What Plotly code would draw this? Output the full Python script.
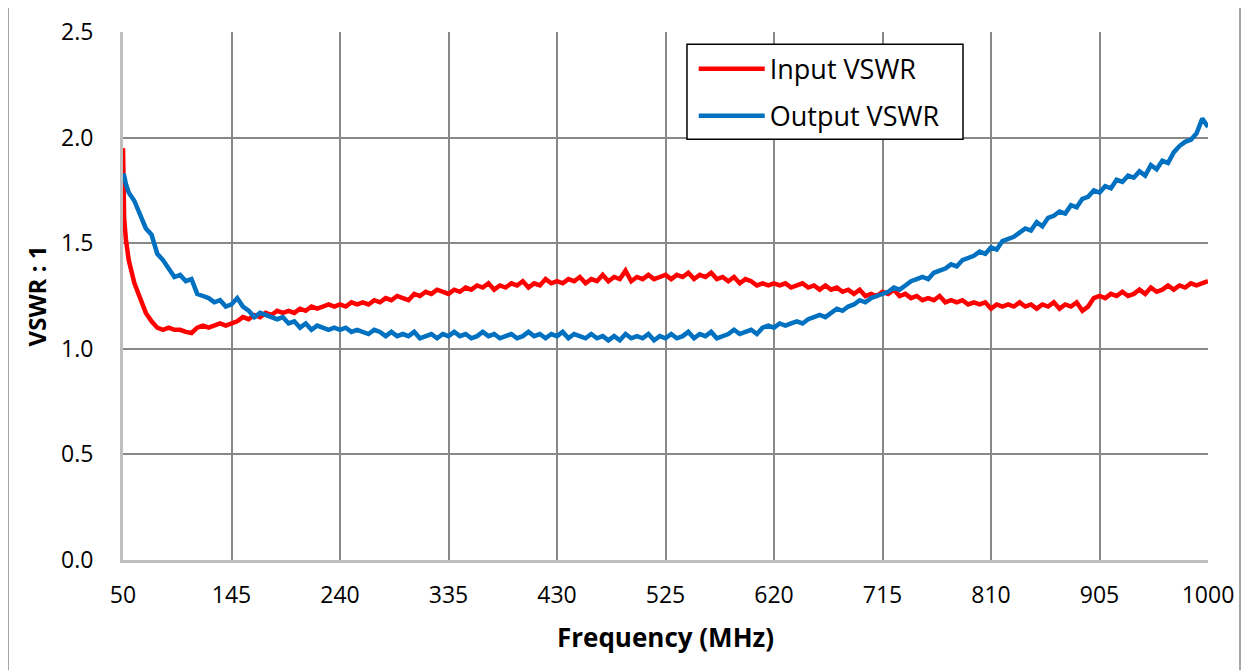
import plotly.graph_objects as go

freq = [50, 51, 52.5] + list(range(55, 1001, 5))

input_vswr = [
    1.95, 1.62, 1.52,
    1.42, 1.31, 1.24, 1.17, 1.13, 1.10, 1.09, 1.10, 1.09, 1.09,
    1.08, 1.075, 1.10, 1.11, 1.10, 1.11, 1.12, 1.11, 1.12, 1.13,
    1.15, 1.14, 1.16, 1.15, 1.17, 1.16, 1.18, 1.17, 1.18, 1.17,
    1.19, 1.18, 1.20, 1.19, 1.20, 1.21, 1.20, 1.21, 1.20, 1.22,
    1.21, 1.22, 1.21, 1.23, 1.22, 1.24, 1.23, 1.25, 1.24, 1.23,
    1.26, 1.25, 1.27, 1.26, 1.28, 1.27, 1.26, 1.28, 1.27, 1.29,
    1.28, 1.30, 1.29, 1.31, 1.28, 1.30, 1.29, 1.31, 1.30, 1.32,
    1.29, 1.31, 1.30, 1.33, 1.31, 1.32, 1.31, 1.33, 1.32, 1.34,
    1.31, 1.33, 1.32, 1.35, 1.32, 1.34, 1.33, 1.37, 1.32, 1.34,
    1.33, 1.35, 1.33, 1.34, 1.35, 1.33, 1.35, 1.34, 1.36, 1.33,
    1.35, 1.34, 1.36, 1.33, 1.34, 1.32, 1.34, 1.31, 1.33, 1.32,
    1.30, 1.31, 1.30, 1.31, 1.30, 1.31, 1.29, 1.30, 1.31, 1.29,
    1.30, 1.28, 1.30, 1.28, 1.29, 1.27, 1.28, 1.26, 1.28, 1.25,
    1.26, 1.25, 1.27, 1.26, 1.28, 1.25, 1.26, 1.24, 1.25, 1.23,
    1.24, 1.23, 1.25, 1.22, 1.23, 1.22, 1.23, 1.21, 1.22, 1.21,
    1.22, 1.19, 1.21, 1.20, 1.21, 1.20, 1.22, 1.20, 1.21, 1.19,
    1.21, 1.20, 1.22, 1.19, 1.21, 1.20, 1.22, 1.18, 1.20, 1.24,
    1.25, 1.24, 1.26, 1.25, 1.27, 1.25, 1.26, 1.28, 1.26, 1.29,
    1.27, 1.28, 1.30, 1.28, 1.30, 1.29, 1.31, 1.30, 1.31, 1.32,
]

output_vswr = [
    1.83, 1.82, 1.78,
    1.74, 1.70, 1.64, 1.57, 1.54, 1.45, 1.42, 1.38, 1.34, 1.35,
    1.32, 1.33, 1.26, 1.25, 1.24, 1.22, 1.23, 1.20, 1.21, 1.24,
    1.20, 1.18, 1.15, 1.17, 1.16, 1.15, 1.14, 1.15, 1.12, 1.13,
    1.10, 1.12, 1.09, 1.11, 1.10, 1.09, 1.10, 1.09, 1.10, 1.08,
    1.09, 1.08, 1.07, 1.09, 1.08, 1.06, 1.08, 1.06, 1.07, 1.06,
    1.08, 1.05, 1.06, 1.07, 1.05, 1.07, 1.06, 1.08, 1.06, 1.07,
    1.05, 1.06, 1.08, 1.06, 1.07, 1.05, 1.06, 1.07, 1.05, 1.06,
    1.08, 1.06, 1.07, 1.05, 1.07, 1.06, 1.08, 1.05, 1.07, 1.06,
    1.05, 1.07, 1.05, 1.06, 1.04, 1.06, 1.04, 1.07, 1.05, 1.06,
    1.05, 1.07, 1.04, 1.06, 1.05, 1.07, 1.05, 1.06, 1.08, 1.05,
    1.07, 1.06, 1.08, 1.05, 1.06, 1.07, 1.09, 1.07, 1.08, 1.09,
    1.07, 1.10, 1.11, 1.10, 1.12, 1.11, 1.12, 1.13, 1.12, 1.14,
    1.15, 1.16, 1.15, 1.17, 1.19, 1.18, 1.20, 1.21, 1.23, 1.22,
    1.24, 1.25, 1.26, 1.27, 1.29, 1.28, 1.30, 1.32, 1.33, 1.34,
    1.33, 1.36, 1.37, 1.38, 1.40, 1.39, 1.42, 1.43, 1.44, 1.46,
    1.45, 1.48, 1.47, 1.51, 1.52, 1.53, 1.55, 1.57, 1.56, 1.60,
    1.58, 1.62, 1.63, 1.65, 1.64, 1.68, 1.67, 1.71, 1.72, 1.75,
    1.74, 1.77, 1.76, 1.80, 1.79, 1.82, 1.81, 1.84, 1.82, 1.87,
    1.85, 1.89, 1.88, 1.93, 1.96, 1.98, 1.99, 2.02, 2.09, 2.05,
]

x_ticks = [50, 145, 240, 335, 430, 525, 620, 715, 810, 905, 1000]
y_ticks = [0.0, 0.5, 1.0, 1.5, 2.0, 2.5]

FONT = "Open Sans"

fig = go.Figure()
fig.add_trace(go.Scatter(x=freq, y=input_vswr, mode="lines", name="Input VSWR",
                         line=dict(color="#FF0000", width=4.5), legend="legend"))
fig.add_trace(go.Scatter(x=freq, y=output_vswr, mode="lines", name="Output VSWR",
                         line=dict(color="#0070C0", width=4.5), legend="legend2"))

leg_common = dict(xanchor="left", yanchor="top", bgcolor="rgba(0,0,0,0)",
                  font=dict(size=27, family=FONT), itemwidth=66)

fig.update_layout(
    width=1244, height=662,
    margin=dict(l=115, r=44, t=24, b=110, autoexpand=False),
    paper_bgcolor="white", plot_bgcolor="white",
    font=dict(family=FONT, size=23, color="black"),
    showlegend=True,
    legend=dict(x=0.526, y=0.976, **leg_common),
    legend2=dict(x=0.526, y=0.887, **leg_common),
    xaxis=dict(range=[50, 1000], tickvals=x_ticks, ticktext=[str(v) for v in x_ticks],
               showgrid=True, gridcolor="#888888", gridwidth=2,
               showline=True, linecolor="#BFBFBF", linewidth=3,
               ticks="outside", ticklen=12, tickcolor="rgba(0,0,0,0)",
               zeroline=False, automargin=False,
               title=dict(text="<b>Frequency (MHz)</b>", font=dict(size=26, family=FONT), standoff=21)),
    yaxis=dict(range=[0, 2.5], tickvals=y_ticks, ticktext=[f"{v:.1f}" for v in y_ticks],
               showgrid=True, gridcolor="#888888", gridwidth=2,
               showline=True, linecolor="#BFBFBF", linewidth=3,
               ticks="outside", ticklen=22, tickcolor="rgba(0,0,0,0)",
               zeroline=False, automargin=False,
               title=dict(text="<b>VSWR : 1</b>", font=dict(size=24, family=FONT), standoff=8)),
    shapes=[
        dict(type="rect", xref="paper", yref="paper", x0=-0.106, x1=1.0295, y0=-0.21, y1=1.051,
             line=dict(color="#A6A6A6", width=2), fillcolor="rgba(0,0,0,0)", layer="below"),
        dict(type="rect", xref="paper", yref="paper", x0=0.5198, x1=0.7742, y0=0.797, y1=0.977,
             line=dict(color="black", width=1.5), fillcolor="white", layer="above"),
    ],
)

fig.write_html("out.html")
